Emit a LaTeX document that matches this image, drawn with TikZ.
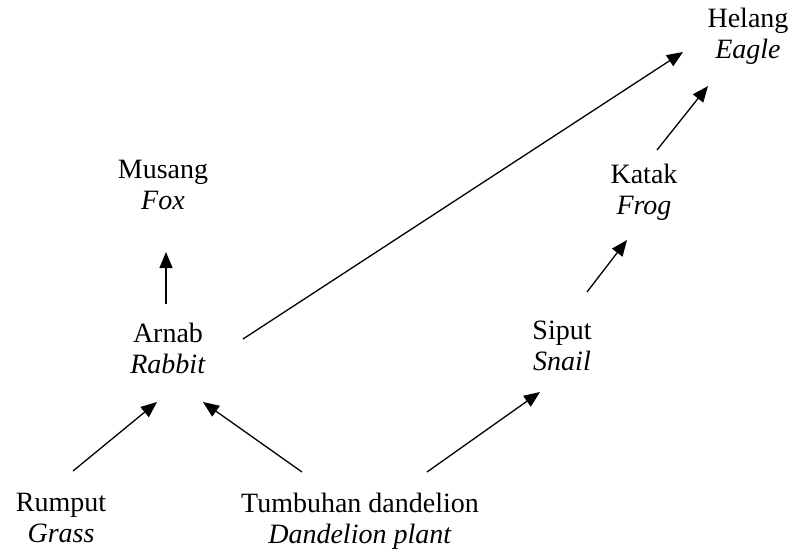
\documentclass[tikz,border=0pt]{standalone}
\usepackage{fontspec}
\setmainfont{Liberation Serif}
\usetikzlibrary{arrows.meta}
\begin{document}
\begin{tikzpicture}[x=1pt,y=-1pt,
  lbl/.style={align=center,anchor=north,inner sep=0pt,font=\fontsize{28}{31}\selectfont},
  feed/.style={-{Triangle[length=16pt,width=13pt]},line width=1.3pt,black}]
\useasboundingbox (0,0) rectangle (796,555);
\node[lbl] (eagle) at (748,8) {Helang\\\textit{Eagle}};
\node[lbl] (fox) at (163,160) {Musang\\\textit{Fox}};
\node[lbl] (frog) at (644,164) {Katak\\\textit{Frog}};
\node[lbl] (snail) at (562,321) {Siput\\\textit{Snail}};
\node[lbl] (rabbit) at (168,323) {Arnab\\\textit{Rabbit}};
\node[lbl] (grass) at (61,493) {Rumput\\\textit{Grass}};
\node[lbl] (dand) at (360,493) {Tumbuhan dandelion\\\textit{Dandelion plant}};
\coordinate (rf1) at (166,304); \coordinate (rf2) at (166,252);
\coordinate (gr1) at (73,471);  \coordinate (gr2) at (157,402);
\coordinate (dr1) at (302,472); \coordinate (dr2) at (203,402);
\coordinate (ds1) at (427,472); \coordinate (ds2) at (540,392);
\coordinate (sf1) at (587,292); \coordinate (sf2) at (627,240);
\coordinate (fe1) at (657,150); \coordinate (fe2) at (708,86);
\coordinate (re1) at (243,339); \coordinate (re2) at (683,52);
\draw[feed] (rf1) -- (rf2);
\draw[feed] (gr1) -- (gr2);
\draw[feed] (dr1) -- (dr2);
\draw[feed] (ds1) -- (ds2);
\draw[feed] (sf1) -- (sf2);
\draw[feed] (fe1) -- (fe2);
\draw[feed] (re1) -- (re2);
\end{tikzpicture}
\end{document}
